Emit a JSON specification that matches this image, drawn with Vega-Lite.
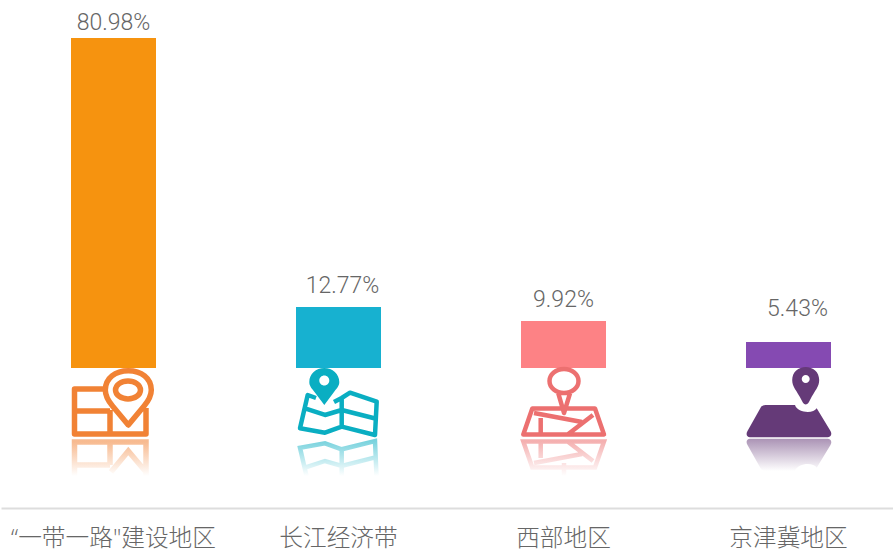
{
"$schema":"https://vega.github.io/schema/vega-lite/v6.json",
"width":893,"height":508,
"autosize":{"type":"none"},
"padding":{"left":0,"top":0,"right":0,"bottom":41},
"background":"white",
"config":{"view":{"stroke":null}},
"data":{"values":[
{"region":"“一带一路\"建设地区","share":0.8098,"bar":0.8098},
{"region":"长江经济带","share":0.1277,"bar":0.1497},
{"region":"西部地区","share":0.0992,"bar":0.1153},
{"region":"京津冀地区","share":0.0543,"bar":0.0638}
]},
"encoding":{
"x":{"field":"region","type":"nominal","sort":null,"title":null,
"scale":{"range":[1,901],"paddingInner":0,"paddingOuter":0},
"axis":{"labelAngle":0,"labelFont":"Open Sans, Noto Sans CJK SC","labelFontSize":23.7,"labelFontWeight":300,"labelColor":"#666666","labelLimit":400,"labelPadding":18,"ticks":false,"grid":false,"domainColor":"#dddddd","domainWidth":2}},
"y":{"field":"bar","type":"quantitative","title":null,"axis":null,"scale":{"domain":[-0.3436,0.9031],"nice":false,"zero":false}}
},
"layer":[
{"mark":{"type":"bar","width":85},"encoding":{"color":{"field":"region","type":"nominal","sort":null,"legend":null,"scale":{"domain":["“一带一路\"建设地区","长江经济带","西部地区","京津冀地区"],"range":["#F6930F","#17B1D0","#FD8285","#854AB2"]}},"y2":{"datum":0}}},

{"transform":[{"filter":"datum.share>0.5"}],"mark":{"type":"text","font":"Roboto","fontWeight":300,"fontSize":23,"color":"#666666","baseline":"middle","dy":-15},"encoding":{"text":{"field":"share","type":"quantitative","format":".2%"}}},
{"transform":[{"filter":"datum.region==='长江经济带'"}],"mark":{"type":"text","font":"Roboto","fontWeight":300,"fontSize":23,"color":"#666666","baseline":"middle","dy":-21,"dx":4},"encoding":{"text":{"field":"share","type":"quantitative","format":".2%"}}},
{"transform":[{"filter":"datum.region==='西部地区'"}],"mark":{"type":"text","font":"Roboto","fontWeight":300,"fontSize":23,"color":"#666666","baseline":"middle","dy":-21},"encoding":{"text":{"field":"share","type":"quantitative","format":".2%"}}},
{"transform":[{"filter":"datum.region==='京津冀地区'"}],"mark":{"type":"text","font":"Roboto","fontWeight":300,"fontSize":23,"color":"#666666","baseline":"middle","dy":-33,"dx":9},"encoding":{"text":{"field":"share","type":"quantitative","format":".2%"}}},

{"transform":[{"filter":"datum.share>0.5"}],"mark":{"type":"point","filled":false,"size":40000,"strokeWidth":5.5,"opacity":1,"stroke":"#F18235","strokeJoin":"round",
"shape":"M-0.085 0.21 L-0.39 0.21 L-0.39 0.66 L0.325 0.66 L0.325 0.40 M-0.39 0.43 L-0.035 0.43 M-0.035 0.42 L-0.035 0.66 M0.148 0.57 L-0.01 0.38 C-0.06 0.32 -0.082 0.28 -0.082 0.22 C-0.082 0.10 0.02 0.027 0.148 0.027 C0.276 0.027 0.378 0.10 0.378 0.22 C0.378 0.28 0.356 0.32 0.306 0.38 Z M0.02 0.22 A0.125 0.09 0 1 1 0.27 0.22 A0.125 0.09 0 1 1 0.02 0.22 Z"},"encoding":{"y":{"datum":0}}},
{"transform":[{"filter":"datum.share>0.5"}],"mark":{"type":"point","filled":false,"size":40000,"strokeWidth":5.5,"opacity":1,
"stroke":{"gradient":"linear","x1":0,"y1":0,"x2":0,"y2":1,"stops":[{"offset":0,"color":"rgba(241,130,53,0.55)"},{"offset":1,"color":"rgba(241,130,53,0)"}]},
"shape":"M-0.39 1.08 L-0.39 0.74 L0.325 0.74 L0.325 1.08 M-0.39 0.97 L-0.035 0.97 M-0.035 0.74 L-0.035 0.97 M-0.025 1.04 L0.148 0.83 L0.325 1.04"},"encoding":{"y":{"datum":0}}},

{"transform":[{"filter":"datum.region==='长江经济带'"}],"mark":{"type":"point","filled":false,"size":40000,"strokeWidth":4.5,"opacity":1,"stroke":"#0AAEC2","strokeJoin":"round",
"shape":"M-0.225 0.30 L-0.308 0.27 L-0.385 0.603 L-0.135 0.647 L0.032 0.587 L0.365 0.67 L0.382 0.337 L0.115 0.247 L0.032 0.30 L-0.045 0.34 M0.032 0.30 L0.032 0.587 M-0.335 0.403 L-0.135 0.47 L0.032 0.42 L0.358 0.503"},"encoding":{"y":{"datum":0}}},
{"transform":[{"filter":"datum.region==='长江经济带'"}],"mark":{"type":"point","filled":true,"size":40000,"opacity":1,"fill":"#0AAEC2","stroke":null,
"shape":"M-0.142 0.37 L-0.24 0.24 C-0.27 0.2 -0.292 0.18 -0.292 0.14 C-0.292 0.06 -0.225 0 -0.142 0 C-0.06 0 0.008 0.06 0.008 0.14 C0.008 0.18 -0.015 0.2 -0.045 0.24 Z M-0.092 0.125 A0.05 0.05 0 1 0 -0.192 0.125 A0.05 0.05 0 1 0 -0.092 0.125 Z"},"encoding":{"y":{"datum":0}}},
{"transform":[{"filter":"datum.region==='长江经济带'"}],"mark":{"type":"point","filled":false,"size":40000,"strokeWidth":4.5,"opacity":1,
"stroke":{"gradient":"linear","x1":0,"y1":0,"x2":0,"y2":1,"stops":[{"offset":0,"color":"rgba(10,174,194,0.55)"},{"offset":1,"color":"rgba(10,174,194,0)"}]},
"shape":"M-0.32 1.08 L-0.385 0.797 L-0.135 0.753 L0.032 0.813 L0.365 0.73 L0.38 1.08 M0.032 0.813 L0.032 1.08 M-0.335 0.997 L-0.135 0.93 L0.032 0.98 L0.358 0.897"},"encoding":{"y":{"datum":0}}},

{"transform":[{"filter":"datum.region==='西部地区'"}],"mark":{"type":"point","filled":false,"size":40000,"strokeWidth":4.5,"opacity":1,"stroke":"#EC7070","strokeJoin":"round",
"shape":"M-0.14 0.13 A0.145 0.12 0 1 1 0.15 0.13 A0.145 0.12 0 1 1 -0.14 0.13 Z M-0.052 0.253 L0.005 0.45 L0.065 0.253 M-0.312 0.405 L0.315 0.405 L0.405 0.665 L-0.402 0.665 Z M-0.295 0.45 L0.185 0.54 M0.295 0.47 L0.048 0.66 M-0.228 0.50 L-0.228 0.665"},"encoding":{"y":{"datum":0}}},
{"transform":[{"filter":"datum.region==='西部地区'"}],"mark":{"type":"point","filled":false,"size":40000,"strokeWidth":4.5,"opacity":1,
"stroke":{"gradient":"linear","x1":0,"y1":0,"x2":0,"y2":1,"stops":[{"offset":0,"color":"rgba(236,112,112,0.55)"},{"offset":1,"color":"rgba(236,112,112,0)"}]},
"shape":"M-0.402 0.735 L0.405 0.735 L0.315 0.995 L-0.312 0.995 Z M-0.295 0.95 L0.185 0.86 M0.295 0.93 L0.048 0.74 M-0.228 0.90 L-0.228 0.735 M0.005 0.95 L0.005 1.08"},"encoding":{"y":{"datum":0}}},

{"transform":[{"filter":"datum.region==='京津冀地区'"}],"mark":{"type":"point","filled":true,"size":40000,"opacity":1,"fill":"#653A78","stroke":null,
"shape":"M0.172 0.365 C0.15 0.365 0.14 0.34 0.13 0.32 C0.08 0.22 0.037 0.19 0.037 0.12 C0.037 0.04 0.1 -0.01 0.172 -0.01 C0.245 -0.01 0.307 0.04 0.307 0.12 C0.307 0.19 0.265 0.22 0.215 0.32 C0.205 0.34 0.195 0.365 0.172 0.365 Z M0.212 0.11 A0.04 0.04 0 1 0 0.132 0.11 A0.04 0.04 0 1 0 0.212 0.11 Z M-0.22 0.37 L0.065 0.37 C0.09 0.45 0.25 0.46 0.282 0.403 L0.42 0.63 C0.44 0.665 0.42 0.693 0.39 0.693 L-0.385 0.693 C-0.415 0.693 -0.43 0.665 -0.41 0.63 L-0.275 0.39 C-0.265 0.375 -0.24 0.37 -0.22 0.37 Z"},"encoding":{"y":{"datum":0}}},
{"transform":[{"filter":"datum.region==='京津冀地区'"}],"mark":{"type":"point","filled":true,"size":40000,"opacity":1,"stroke":null,
"fill":{"gradient":"linear","x1":0,"y1":0,"x2":0,"y2":1,"stops":[{"offset":0,"color":"rgba(101,58,120,0.55)"},{"offset":1,"color":"rgba(101,58,120,0)"}]},
"shape":"M-0.385 0.707 L0.39 0.707 C0.42 0.707 0.44 0.735 0.42 0.77 L0.282 0.997 C0.25 0.94 0.09 0.95 0.065 1.03 L-0.22 1.03 C-0.24 1.03 -0.265 1.025 -0.275 1.01 L-0.41 0.77 C-0.43 0.735 -0.415 0.707 -0.385 0.707 Z"},"encoding":{"y":{"datum":0}}}
]
}
